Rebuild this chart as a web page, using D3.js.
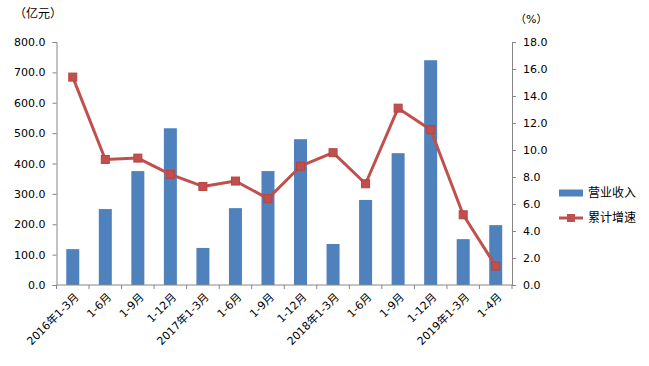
<!DOCTYPE html>
<html>
<head>
<meta charset="utf-8">
<title>营业收入与累计增速</title>
<style>
  body { margin: 0; background: #fff; }
  svg text { font-family: "DejaVu Sans", "Noto Sans CJK SC", sans-serif; fill: #000; }
  .axis path, .axis line { stroke: #868686; }
</style>
</head>
<body>
<div id="viz"></div>
<script src="https://cdn.jsdelivr.net/npm/d3@7"></script>
<script>
  var categories = ["2016年1-3月","1-6月","1-9月","1-12月","2017年1-3月","1-6月","1-9月","1-12月",
                    "2018年1-3月","1-6月","1-9月","1-12月","2019年1-3月","1-4月"];
  var revenue = [118, 250, 375, 516, 122, 253, 375, 480, 135, 280, 434, 740, 151, 197];
  var growth = [15.4, 9.3, 9.4, 8.2, 7.3, 7.7, 6.4, 8.8, 9.8, 7.5, 13.1, 11.5, 5.2, 1.4];
  var leftTicks = [0, 100, 200, 300, 400, 500, 600, 700, 800];
  var rightTicks = [0, 2, 4, 6, 8, 10, 12, 14, 16, 18];

  var W = 649, H = 366;
  var margin = {top: 42, left: 56.5, right: 137, bottom: 81};
  var width = W - margin.left - margin.right,
      height = H - margin.top - margin.bottom;

  var svg = d3.select("#viz").append("svg")
      .attr("width", W).attr("height", H)
    .append("g")
      .attr("transform", "translate(" + margin.left + "," + margin.top + ")");

  var idx = categories.map(function(d, i) { return i; });
  var x = d3.scaleBand().domain(idx).range([0, width]).paddingInner(0.6).paddingOuter(0.3);
  var xc = d3.scaleBand().domain(idx).range([0, width]);
  var yL = d3.scaleLinear().domain([0, 800]).range([height, 0]);
  var yR = d3.scaleLinear().domain([0, 18]).range([height, 0]);

  // bars
  svg.selectAll(".bar")
      .data(revenue)
    .enter().append("rect")
      .attr("class", "bar")
      .attr("x", function(d, i) { return xc(i) + xc.bandwidth() / 2 - 6.5; })
      .attr("width", 13)
      .attr("y", function(d) { return yL(d); })
      .attr("height", function(d) { return height - yL(d); })
      .attr("fill", "#4F81BD");

  // left axis
  svg.append("g")
      .attr("class", "axis")
      .call(d3.axisLeft(yL).tickValues(leftTicks).tickFormat(d3.format(".1f")).tickSizeOuter(0).tickSize(4).tickPadding(7))
      .selectAll("text").style("font-size", "11px");

  // right axis
  svg.append("g")
      .attr("class", "axis")
      .attr("transform", "translate(" + width + ",0)")
      .call(d3.axisRight(yR).tickValues(rightTicks).tickFormat(d3.format(".1f")).tickSizeOuter(0).tickSize(4).tickPadding(7))
      .selectAll("text").style("font-size", "11px");

  // bottom axis
  var xAxis = svg.append("g")
      .attr("class", "axis")
      .attr("transform", "translate(0," + height + ")");
  xAxis.append("line").attr("x1", 0).attr("x2", width).attr("stroke", "#868686");
  xAxis.selectAll(".tk")
      .data(idx.concat([categories.length]))
    .enter().append("line")
      .attr("x1", function(i) { return i * xc.step(); })
      .attr("x2", function(i) { return i * xc.step(); })
      .attr("y1", 0).attr("y2", 4)
      .attr("stroke", "#868686");
  xAxis.selectAll(".lbl")
      .data(categories)
    .enter().append("text")
      .attr("transform", function(d, i) {
        return "translate(" + (xc(i) + xc.bandwidth() / 2 + 4) + ",10) rotate(-45)";
      })
      .attr("text-anchor", "end")
      .attr("dy", "0.35em")
      .style("font-size", "11px")
      .text(function(d) { return d; });

  // line
  var line = d3.line()
      .x(function(d, i) { return xc(i) + xc.bandwidth() / 2; })
      .y(function(d) { return yR(d); });

  svg.append("path")
      .datum(growth)
      .attr("d", line)
      .attr("fill", "none")
      .attr("stroke", "#C0504D")
      .attr("stroke-width", 3)
      .attr("stroke-linejoin", "round");

  svg.selectAll(".mk")
      .data(growth)
    .enter().append("rect")
      .attr("x", function(d, i) { return xc(i) + xc.bandwidth() / 2 - 4; })
      .attr("y", function(d) { return yR(d) - 4; })
      .attr("width", 8).attr("height", 8)
      .attr("fill", "#C0504D")
      .attr("stroke", "#B8433F");

  // axis titles
  svg.append("text")
      .attr("x", 14 - margin.left).attr("y", 18 - margin.top)
      .style("font-size", "12px")
      .text("（亿元）");
  svg.append("text")
      .attr("x", width + 3).attr("y", 23 - margin.top)
      .style("font-size", "11px")
      .text("（%）");

  // legend
  var lg = svg.append("g").attr("transform", "translate(" + (559 - margin.left) + "," + (193 - margin.top) + ")");
  lg.append("rect").attr("x", 0).attr("y", -3.5).attr("width", 24).attr("height", 7).attr("fill", "#4F81BD");
  lg.append("text").attr("x", 29).attr("dy", "0.35em").style("font-size", "12px").text("营业收入");
  lg.append("line").attr("x1", 0).attr("x2", 24).attr("y1", 25).attr("y2", 25)
      .attr("stroke", "#C0504D").attr("stroke-width", 3);
  lg.append("rect").attr("x", 8).attr("y", 21).attr("width", 8).attr("height", 8).attr("fill", "#C0504D");
  lg.append("text").attr("x", 29).attr("y", 25).attr("dy", "0.35em").style("font-size", "12px").text("累计增速");
</script>
</body>
</html>
